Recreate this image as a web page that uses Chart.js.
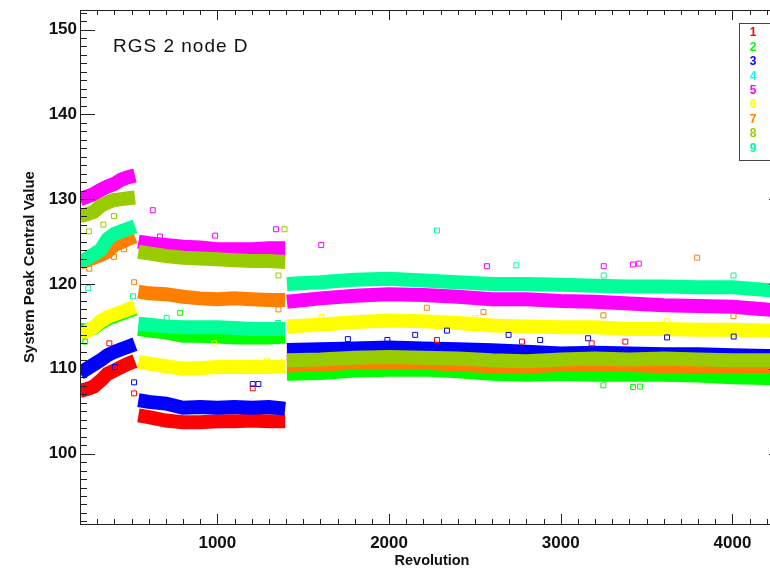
<!DOCTYPE html>
<html>
<head>
<meta charset="utf-8">
<script src="https://cdn.jsdelivr.net/npm/chart.js@4/dist/chart.umd.min.js"></script>
<style>
    body { margin: 0; background: #fff; }
    .wrap { width: 770px; height: 571px; overflow: hidden; position: relative; }
</style>
</head>
<body>
<div class="wrap"><canvas id="rgsChart" width="800" height="571"></canvas></div>
<script>
// revolution sample points; null entries in the series break the trace between the three data stretches
var revolution = [200, 240, 280, 320, 360, 400, 440, 480, 520, 530,
    540, 600, 700, 800, 900, 1000, 1100, 1200, 1300, 1395, 1400,
    1405, 1600, 1800, 2000, 2200, 2400, 2600, 2800, 3000, 3200, 3400, 3600, 3800, 4000, 4200, 4300];

var node1 = [107.4, 107.6, 107.9, 108.6, 109.4, 109.8, 110.2, 110.6, 110.9, null,
    104.5, 104.3, 103.9, 103.7, 103.7, 103.8, 103.8, 103.9, 103.8, 103.8, null,
    110.9, 111.0, 111.2, 111.3, 111.2, 111.1, 110.9, 110.8, 110.9, 111.0, 110.9, 111.0, 110.9, 110.8, 110.8, 110.8];
var node2 = [114.6, 114.5, 114.8, 115.4, 115.9, 116.2, 116.5, 116.8, 117.1, null,
    114.7, 114.5, 114.3, 113.9, 113.9, 113.8, 113.7, 113.7, 113.7, 113.8, null,
    109.4, 109.5, 109.8, 109.9, 109.9, 109.7, 109.4, 109.3, 109.4, 109.3, 109.3, 109.3, 109.2, 109.0, 108.9, 108.9];
var node3 = [109.5, 110.0, 110.5, 111.0, 111.6, 112.0, 112.3, 112.6, 112.9, null,
    106.3, 106.1, 105.9, 105.4, 105.5, 105.4, 105.5, 105.4, 105.5, 105.3, null,
    112.2, 112.3, 112.4, 112.5, 112.4, 112.3, 112.2, 112.0, 111.8, 111.9, 111.8, 111.7, 111.7, 111.6, 111.5, 111.5];
var node4 = [];
var node5 = [130.0, 130.3, 130.6, 131.1, 131.5, 131.8, 132.3, 132.6, 132.8, null,
    125.0, 124.8, 124.6, 124.4, 124.3, 124.1, 124.1, 124.1, 124.2, 124.2, null,
    117.9, 118.3, 118.6, 118.8, 118.7, 118.5, 118.2, 118.2, 118.0, 117.9, 117.7, 117.5, 117.4, 117.3, 117.0, 116.9];
var node6 = [114.0, 114.4, 114.9, 115.6, 116.1, 116.4, 116.7, 117.0, 117.3, null,
    110.8, 110.6, 110.3, 110.0, 110.1, 110.2, 110.2, 110.2, 110.2, 110.3, null,
    115.0, 115.2, 115.5, 115.7, 115.6, 115.4, 115.1, 115.0, 114.9, 114.9, 114.7, 114.7, 114.6, 114.6, 114.5, 114.5];
var node7 = [122.5, 122.8, 123.1, 123.4, 123.8, 124.6, 124.9, 125.3, 125.6, null,
    119.1, 118.9, 118.8, 118.5, 118.3, 118.2, 118.3, 118.2, 118.1, 118.1, null,
    110.4, 110.5, 110.7, 110.7, 110.7, 110.5, 110.3, 110.3, 110.45, 110.45, 110.45, 110.3, 110.3, 110.3, 110.2, 110.2];
var node8 = [128.0, 128.2, 128.5, 129.2, 129.6, 129.9, 130.0, 130.1, 130.2, null,
    123.8, 123.6, 123.3, 123.1, 123.0, 122.9, 122.8, 122.7, 122.7, 122.6, null,
    111.0, 111.1, 111.3, 111.4, 111.3, 111.2, 111.0, 110.9, 111.1, 111.2, 111.1, 111.2, 111.1, 111.0, 111.0, 111.0];
var node9 = [122.6, 123.0, 123.5, 124.0, 125.3, 125.9, 126.2, 126.5, 126.8, null,
    115.3, 115.2, 115.0, 114.9, 114.9, 114.9, 114.8, 114.7, 114.7, 114.7, null,
    120.0, 120.2, 120.5, 120.6, 120.4, 120.2, 120.0, 120.0, 119.9, 119.8, 119.7, 119.7, 119.6, 119.6, 119.3, 119.3];

// isolated points off the main bands: [revolution, value]
var stray1 = [[371, 113.0], [515, 107.1], [1206, 107.7], [2279, 113.4], [2774, 113.2], [3180, 113.0], [3376, 113.2]];
var stray2 = [[230, 113.2], [783, 116.6], [3248, 108.05], [3421, 107.85], [3461, 107.9]];
var stray3 = [[404, 110.2], [515, 108.4], [1206, 108.2], [1239, 108.2], [1760, 113.5], [1990, 113.4], [2152, 114.0],
    [2337, 114.5], [2696, 114.0], [2880, 113.4], [3159, 113.6], [3619, 113.7], [4007, 113.8]];
var stray4 = [];
var stray5 = [[624, 128.7], [666, 125.6], [987, 125.7], [1342, 126.45], [1605, 124.6], [2570, 122.1],
    [3250, 122.1], [3420, 122.3], [3454, 122.4]];
var stray6 = [[981, 113.0], [1290, 110.9], [1606, 116.1], [2500, 116.0], [3620, 115.6]];
var stray7 = [[254, 121.8], [398, 123.2], [456, 124.1], [515, 120.2], [1356, 117.0], [2220, 117.2],
    [2550, 116.7], [3248, 116.3], [3794, 123.1], [4006, 116.2]];
var stray8 = [[252, 126.2], [336, 127.0], [398, 128.0], [1356, 121.0], [1391, 126.45]];
var stray9 = [[248, 119.5], [509, 118.55], [705, 116.0], [763, 115.4], [1354, 115.4], [2279, 126.3],
    [2741, 122.2], [3250, 121.0], [4006, 121.0]];

var nodeLabels = ['1', '2', '3', '4', '5', '6', '7', '8', '9'];
var xTickValues = [1000, 2000, 3000, 4000];
var yTickValues = [100, 110, 120, 130, 140, 150];

var nodeColors = ['#ff0000', '#00ff00', '#0000ff', '#00ffff', '#ff00ff', '#ffff00', '#ff8000', '#99cc00', '#00ff99'];
var bands = [node1, node2, node3, node4, node5, node6, node7, node8, node9];
var strays = [stray1, stray2, stray3, stray4, stray5, stray6, stray7, stray8, stray9];

var datasets = [];
bands.forEach(function (vals, i) {
    datasets.push({
        label: nodeLabels[i],
        data: vals.map(function (v, k) { return { x: revolution[k], y: v }; }),
        showLine: true,
        spanGaps: false,
        borderColor: nodeColors[i],
        borderWidth: 14,
        borderCapStyle: 'butt',
        pointRadius: 0,
        order: 20 - i
    });
});
strays.forEach(function (pts, i) {
    datasets.push({
        label: nodeLabels[i] + ' stray',
        data: pts.map(function (p) { return { x: p[0], y: p[1] }; }),
        showLine: false,
        pointStyle: 'rect',
        pointRadius: 3.5,
        pointBorderWidth: 1,
        pointBackgroundColor: 'rgba(0,0,0,0)',
        pointBorderColor: nodeColors[i],
        order: 1
    });
});

var axisFont = { family: 'Liberation Sans', size: 17, weight: 'bold' };

// IDL style frame: ticks point inward on all four sides, plot label and node key inside the plot
var idlFrame = {
    id: 'idlFrame',
    afterDatasetsDraw: function (chart) {
        var ctx = chart.ctx;
        var a = chart.chartArea;
        var sx = chart.scales.x;
        var sy = chart.scales.y;
        ctx.save();
        ctx.strokeStyle = '#222';
        ctx.lineWidth = 1;
        ctx.strokeRect(a.left + 0.5, a.top + 0.5, a.right - a.left, a.bottom - a.top);
        ctx.beginPath();
        for (var r = 200; r <= sx.max; r += 100) {
            var px = Math.round(sx.getPixelForValue(r)) + 0.5;
            var len = r % 1000 === 0 ? 10 : 5;
            ctx.moveTo(px, a.bottom); ctx.lineTo(px, a.bottom - len);
            ctx.moveTo(px, a.top); ctx.lineTo(px, a.top + len);
        }
        for (var v = 92; v <= sy.max; v++) {
            var py = Math.round(sy.getPixelForValue(v)) + 0.5;
            var ylen = v % 10 === 0 ? 15 : 7;
            ctx.moveTo(a.left, py); ctx.lineTo(a.left + ylen, py);
            ctx.moveTo(a.right, py); ctx.lineTo(a.right - ylen, py);
        }
        ctx.stroke();

        ctx.fillStyle = '#111';
        ctx.font = '19px "Liberation Sans"';
        ctx.letterSpacing = '1px';
        ctx.textBaseline = 'middle';
        ctx.textAlign = 'left';
        ctx.fillText('RGS 2 node D', 113, 47);
        ctx.letterSpacing = '0px';

        ctx.fillStyle = '#fff';
        ctx.fillRect(739.5, 23.5, 40, 137);
        ctx.strokeStyle = '#444';
        ctx.strokeRect(739.5, 23.5, 40, 137);
        ctx.font = 'bold 12px "Liberation Sans"';
        ctx.textAlign = 'center';
        nodeLabels.forEach(function (lbl, i) {
            ctx.fillStyle = nodeColors[i];
            ctx.fillText(lbl, 753, 33 + i * 14.4);
        });
        ctx.restore();
    }
};

var ctx = document.getElementById('rgsChart');
var rgsChart = new Chart(ctx, {
    type: 'scatter',
    data: { datasets: datasets },
    options: {
        responsive: false,
        animation: false,
        devicePixelRatio: 1,
        layout: { padding: { top: 10, right: 16, left: 0, bottom: 0 } },
        plugins: {
            legend: { display: false },
            tooltip: { enabled: false }
        },
        scales: {
            x: {
                type: 'linear',
                min: 200,
                max: 4300,
                grid: { display: false, drawTicks: false },
                border: { display: false },
                afterBuildTicks: function (s) {
                    s.ticks = xTickValues.map(function (v) { return { value: v }; });
                },
                afterFit: function (s) { s.height = 47; },
                ticks: {
                    color: '#111',
                    font: axisFont,
                    padding: 9,
                    maxRotation: 0,
                    callback: function (v) { return String(v); }
                },
                title: {
                    display: true,
                    text: 'Revolution',
                    color: '#111',
                    font: { family: 'Liberation Sans', size: 14.5, weight: 'bold' },
                    padding: { top: 0, bottom: 1 }
                }
            },
            y: {
                type: 'linear',
                min: 91.7,
                max: 152.3,
                grid: { display: false, drawTicks: false },
                border: { display: false },
                afterBuildTicks: function (s) {
                    s.ticks = yTickValues.map(function (v) { return { value: v }; });
                },
                afterFit: function (s) {
                    s.width = 80;
                    s.paddingTop = 0;
                    s.paddingBottom = 0;
                },
                ticks: { color: '#111', font: axisFont, padding: 3 },
                title: {
                    display: true,
                    text: 'System Peak Central Value',
                    color: '#111',
                    font: { family: 'Liberation Sans', size: 15, weight: 'bold' },
                    padding: { top: 21, bottom: 0 }
                }
            }
        }
    },
    plugins: [idlFrame]
});
</script>
</body>
</html>
